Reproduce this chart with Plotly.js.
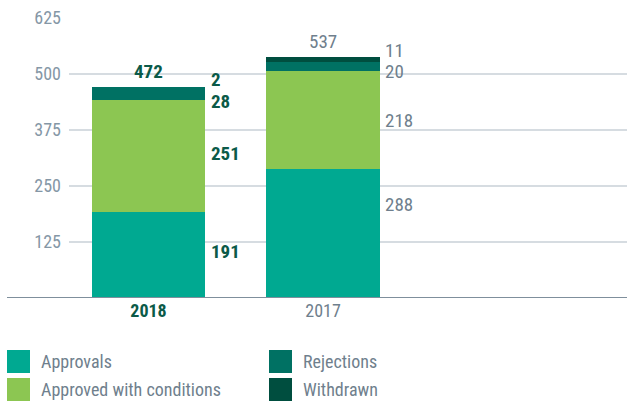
<!DOCTYPE html>
<html>
<head>
<meta charset="utf-8">
<script src="https://cdn.plot.ly/plotly-3.0.1.min.js"></script>
<style>html,body{margin:0;padding:0;background:#fff;}#chart{width:627px;height:405px;}</style>
</head>
<body>
<div id="chart"></div>
<script>
const years = ["2018", "2017"];
const seriesNames = ["Approvals", "Approved with conditions", "Rejections", "Withdrawn"];
const approvals = [191, 288];
const approvedWithConditions = [251, 218];
const rejections = [28, 20];
const withdrawn = [2, 11];
const totals = [472, 537];
const yTicks = [125, 250, 375, 500, 625];

const colors = ["#00a991", "#8cc652", "#007163", "#004e3f"];
const FONT = "'Roboto Condensed', 'Liberation Sans Narrow', Roboto, sans-serif";
const GRAY = "#6f7f8d";
const DARK = "#0b5a48";
const yearColor = [DARK, GRAY];
const yearBold = [true, false];

const series = [approvals, approvedWithConditions, rejections, withdrawn];
const traces = series.map((vals, k) => ({
  type: "bar", x: [0, 1], y: vals, name: seriesNames[k],
  marker: {color: colors[k], line: {width: 0}}, width: 0.648,
  showlegend: false, hoverinfo: "skip"
}));

const annotations = [];
const lab = (t, i) => yearBold[i] ? "<b>" + t + "</b>" : t;
// side labels (pixel nudges so the small top segments' labels don't collide)
const sideOffsets = [[+4, +3, -7, +8], [+29, 0, -4, +10]];
years.forEach((yr, i) => {
  let cum = 0;
  series.forEach((vals, k) => {
    const mid = cum + vals[i] / 2;
    cum += vals[i];
    annotations.push({
      x: i, y: mid, xref: "x", yref: "y", text: lab(String(vals[i]), i),
      showarrow: false, xanchor: "left", yanchor: "middle",
      xshift: 60, yshift: sideOffsets[i][k], height: 20,
      font: {family: FONT, size: 19, color: yearColor[i]}
    });
  });
  annotations.push({
    x: i, y: totals[i], xref: "x", yref: "y", text: lab(String(totals[i]), i),
    showarrow: false, xanchor: "center", yanchor: "bottom", yshift: 2,
    font: {family: FONT, size: 19, color: yearColor[i]}
  });
});

// custom legend
const shapes = [];
const legPos = [[7, 350], [7, 378], [269, 350], [269, 378]];
seriesNames.forEach((n, k) => {
  const [px, py] = legPos[k];
  shapes.push({type: "rect", xref: "paper", yref: "paper",
    x0: (px - 69) / 558, x1: (px + 23 - 69) / 558,
    y0: (298 - py) / 280, y1: (298 - py - 23) / 280,
    fillcolor: colors[k], line: {width: 0}});
  annotations.push({xref: "paper", yref: "paper", x: (px + 32 - 69) / 558, y: (298 - py - 11.5) / 280,
    text: n, showarrow: false, xanchor: "left", yanchor: "middle",
    font: {family: FONT, size: 18, color: GRAY}});
});
// baseline
shapes.push({type: "line", xref: "paper", yref: "y", x0: (7 - 69) / 558, x1: 1, y0: 0, y1: 0,
  line: {color: "#7f8f9c", width: 2}});

const layout = {
  width: 627, height: 405,
  margin: {l: 69, r: 0, t: 18, b: 107},
  paper_bgcolor: "#fff", plot_bgcolor: "#fff",
  barmode: "stack", bargap: 0,
  xaxis: {range: [-0.4556, 2.742], tickvals: [0, 1],
    ticktext: years.map((y, i) => '<span style="color:' + yearColor[i] + '">' + lab(y, i) + '</span>'),
    showgrid: false, zeroline: false, showline: false, ticks: "",
    tickfont: {family: FONT, size: 18, color: GRAY}, fixedrange: true},
  yaxis: {range: [0, 625], tickvals: yTicks, ticktext: yTicks.map(String),
    showgrid: true, gridcolor: "#d6dce1", gridwidth: 2, zeroline: false, showline: false,
    ticks: "", ticklabelstandoff: 7,
    tickfont: {family: FONT, size: 18, color: "#8597a6"}, fixedrange: true},
  annotations, shapes, showlegend: false
};
Plotly.newPlot("chart", traces, layout, {staticPlot: true, displayModeBar: false});
</script>
</body>
</html>
